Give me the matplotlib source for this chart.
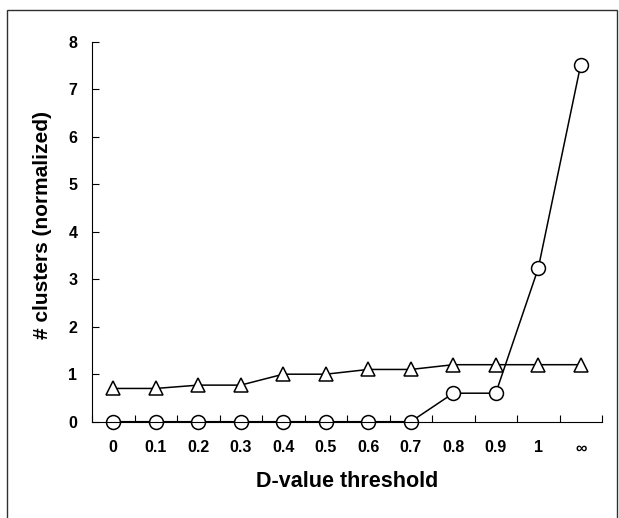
import matplotlib
matplotlib.use("Agg")
import matplotlib.pyplot as plt
import matplotlib.patches as mpatches
import numpy as np

# ── Data ─────────────────────────────────────────────────────────────────────
thresholds = ["0", "0.1", "0.2", "0.3", "0.4", "0.5", "0.6", "0.7", "0.8", "0.9", "1", "\u221e"]
triangle_vals = [0.7, 0.7, 0.77, 0.77, 1.0, 1.0, 1.1, 1.1, 1.2, 1.2, 1.2, 1.2]
circle_vals = [0, 0, 0, 0, 0, 0, 0, 0, 0.6, 0.6, 3.23, 7.52]
y_ticks = [0, 1, 2, 3, 4, 5, 6, 7, 8]

plt.rcParams["font.family"] = ["Liberation Sans", "DejaVu Sans"]
plt.rcParams["font.weight"] = "bold"

fig = plt.figure(figsize=(6.19, 5.18), dpi=100)
ax = fig.add_axes([92 / 619, 1 - 421.7 / 518, 510 / 619, 380 / 518])

# outer border of the chart area
fig.patches.append(mpatches.Rectangle((7 / 619, -0.05), 610 / 619, 1.05 - 9.5 / 518,
                                      transform=fig.transFigure, fill=False,
                                      edgecolor="#303030", linewidth=1.0))

x = np.arange(len(thresholds))
ax.plot(x, triangle_vals, color="black", linewidth=1.1, marker="^", markersize=10,
        markerfacecolor="white", markeredgecolor="black", markeredgewidth=1.1, clip_on=False)
ax.plot(x, circle_vals, color="black", linewidth=1.1, marker="o", markersize=10,
        markerfacecolor="white", markeredgecolor="black", markeredgewidth=1.1, clip_on=False)

ax.set_xlim(-0.5, len(thresholds) - 0.5)
ax.set_ylim(0, 8)

# category boundaries carry the tick marks, centres carry the labels
ax.set_xticks(np.arange(-0.5, len(thresholds), 1.0))
ax.set_xticklabels([])
ax.set_xticks(x, minor=True)
ax.set_xticklabels(thresholds, minor=True, fontsize=11.5, fontweight="bold")
ax.tick_params(axis="x", which="major", direction="in", length=5, width=0.8)
ax.tick_params(axis="x", which="minor", length=0, pad=13.5)

ax.set_yticks(y_ticks)
ax.set_yticklabels([str(v) for v in y_ticks], fontsize=11.5, fontweight="bold")
ax.tick_params(axis="y", direction="in", length=5, width=0.8, pad=10.5)

for s in ["top", "right"]:
    ax.spines[s].set_visible(False)
for s in ["left", "bottom"]:
    ax.spines[s].set_linewidth(0.8)

ax.set_xlabel("D-value threshold", fontsize=15.5, fontweight="bold", labelpad=11)
ax.set_ylabel("# clusters (normalized)", fontsize=15, fontweight="bold")
ax.yaxis.set_label_coords(-0.078, 0.518)

fig.savefig("out.png", dpi=100)
